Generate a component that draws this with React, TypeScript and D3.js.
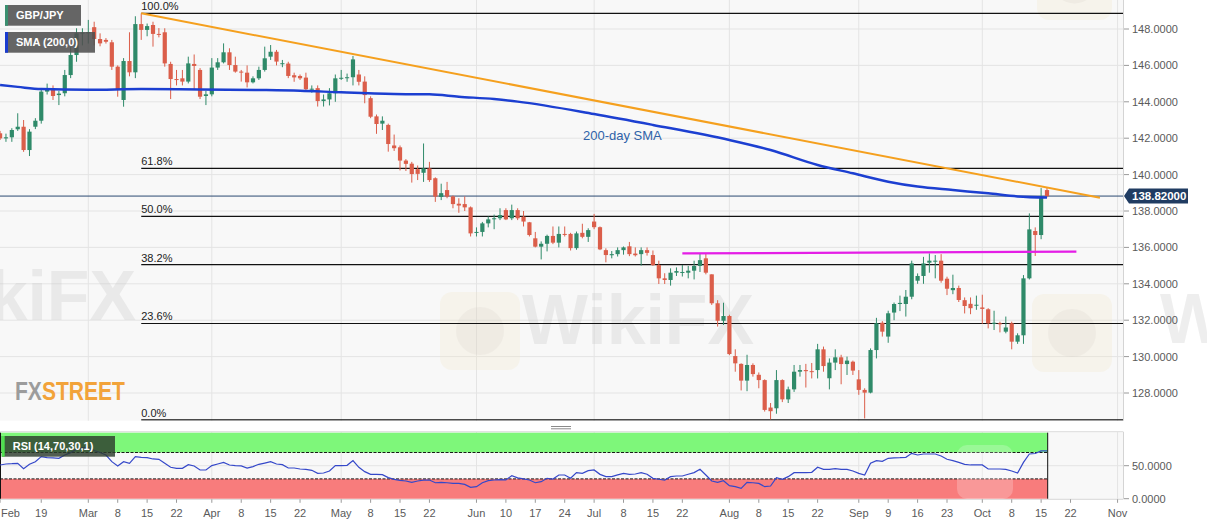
'use client';

import * as d3 from 'd3';
import { useEffect, useRef } from 'react';

const W = 1207;
const H = 526;

const firstDay = '2019-02-08';
const lastDay = '2019-11-01';

// GBP/JPY daily candles [open, high, low, close], Feb 8 – Oct 16 2019
const ohlc: [number, number, number, number][] = [
  [142.27, 142.4, 141.9, 141.99], [141.99, 142.25, 141.8, 142.05], [142.05, 142.55, 141.8, 142.45], [142.49, 143.37, 142.4, 142.63],
  [142.63, 143.0, 141.25, 141.35], [141.35, 142.5, 141.02, 142.36], [142.63, 143.1, 142.5, 142.96], [142.96, 144.7, 142.8, 144.56],
  [144.56, 145.0, 144.4, 144.68], [144.65, 144.9, 144.1, 144.32], [144.37, 144.6, 143.82, 144.45], [144.47, 145.75, 144.3, 145.47],
  [145.47, 147.0, 145.3, 146.57], [146.57, 148.04, 146.2, 147.76], [147.76, 148.04, 147.1, 147.8], [147.8, 148.5, 147.2, 147.82],
  [148.1, 148.4, 147.1, 147.45], [147.45, 147.76, 147.05, 147.21], [147.4, 147.5, 147.2, 147.3], [147.27, 147.4, 145.75, 145.93],
  [145.93, 146.0, 144.28, 144.65], [144.1, 146.4, 143.73, 146.24], [146.24, 147.82, 145.4, 145.62], [145.62, 148.7, 145.3, 148.27],
  [148.27, 148.86, 147.4, 147.95], [147.95, 148.3, 147.6, 148.16], [148.22, 148.4, 147.03, 147.73], [147.73, 148.05, 147.54, 147.7],
  [147.82, 148.04, 145.93, 146.11], [146.08, 146.2, 144.15, 145.25], [145.25, 145.75, 144.9, 145.2], [145.29, 145.75, 144.9, 145.11],
  [145.11, 146.48, 145.01, 146.11], [146.08, 146.6, 144.7, 145.97], [145.75, 145.85, 144.15, 144.28], [144.32, 144.6, 143.82, 144.41],
  [144.41, 146.4, 144.3, 145.88], [145.88, 146.4, 145.75, 146.17], [146.17, 147.21, 146.11, 146.72], [146.72, 146.94, 145.75, 146.02],
  [146.02, 146.48, 145.6, 145.66], [145.66, 145.75, 145.11, 145.64], [145.6, 146.0, 144.79, 145.07], [145.07, 145.4, 145.01, 145.29],
  [145.29, 145.93, 145.2, 145.75], [145.75, 147.03, 145.66, 146.39], [146.48, 147.12, 146.3, 146.75], [146.75, 146.85, 146.0, 146.21],
  [146.1, 146.3, 145.9, 146.12], [146.1, 146.2, 145.3, 145.42], [145.46, 145.6, 145.1, 145.34], [145.42, 145.5, 145.2, 145.29],
  [145.33, 145.6, 144.6, 144.69], [144.69, 144.9, 144.5, 144.72], [144.75, 144.9, 143.74, 144.04], [144.04, 144.4, 143.74, 144.13],
  [144.13, 144.75, 143.8, 144.47], [144.47, 145.5, 144.0, 145.29], [145.29, 145.75, 145.2, 145.32], [145.3, 145.55, 145.1, 145.35],
  [145.35, 146.52, 144.9, 146.33], [145.5, 145.75, 144.9, 145.1], [145.11, 145.4, 143.92, 144.37], [144.2, 144.3, 143.1, 143.18],
  [143.2, 143.3, 142.24, 142.78], [142.8, 143.2, 142.45, 142.96], [142.73, 142.8, 141.26, 141.68], [141.6, 142.2, 141.3, 141.45],
  [141.5, 141.6, 140.23, 140.77], [140.77, 140.85, 140.2, 140.59], [140.6, 140.7, 139.56, 140.03], [140.3, 140.5, 139.7, 140.04],
  [140.1, 141.71, 139.6, 140.34], [140.34, 140.7, 139.6, 139.7], [139.8, 139.85, 138.5, 138.79], [138.77, 139.5, 138.6, 138.98],
  [139.15, 139.6, 138.7, 138.79], [138.8, 138.85, 138.15, 138.38], [138.4, 138.7, 137.9, 138.3], [138.38, 138.8, 138.0, 138.2],
  [138.2, 138.25, 136.6, 136.77], [136.8, 137.1, 136.6, 136.85], [136.85, 137.4, 136.6, 137.32], [137.32, 137.7, 137.1, 137.54],
  [137.55, 137.8, 137.0, 137.6], [137.6, 138.15, 137.5, 137.78], [138.05, 138.15, 137.5, 137.54], [137.6, 138.35, 137.5, 138.05],
  [138.05, 138.15, 137.5, 137.6], [137.69, 138.0, 137.15, 137.42], [137.38, 137.4, 136.6, 136.68], [136.5, 136.85, 136.0, 136.04],
  [136.04, 136.33, 135.34, 136.2], [136.2, 136.7, 135.78, 136.63], [136.63, 137.15, 136.18, 136.26], [136.26, 137.15, 136.0, 136.74],
  [136.74, 137.15, 136.6, 136.72], [136.74, 136.8, 135.83, 135.96], [135.96, 136.87, 135.87, 136.77], [136.8, 137.3, 136.5, 136.58],
  [136.58, 137.05, 136.3, 136.95], [137.42, 137.84, 137.0, 137.11], [137.11, 137.15, 135.85, 135.89], [135.85, 135.95, 135.18, 135.58],
  [135.57, 135.8, 135.4, 135.63], [135.63, 136.0, 135.5, 135.85], [135.85, 136.05, 135.6, 136.0], [136.06, 136.3, 135.52, 135.63],
  [135.66, 136.0, 135.5, 135.57], [135.63, 136.0, 135.0, 135.85], [135.85, 136.0, 135.55, 135.7], [135.58, 135.83, 134.98, 135.03],
  [135.03, 135.27, 133.99, 134.3], [134.3, 134.58, 133.99, 134.21], [134.21, 134.85, 133.9, 134.61], [134.61, 134.9, 134.43, 134.7],
  [134.61, 135.03, 134.4, 134.65], [134.61, 134.98, 134.3, 134.72], [134.72, 135.27, 134.24, 134.98], [134.98, 135.67, 134.65, 135.3],
  [135.4, 135.65, 134.52, 134.61], [134.52, 134.52, 132.84, 132.93], [132.93, 133.1, 131.65, 131.97], [131.97, 132.96, 131.74, 132.23],
  [132.23, 132.3, 130.08, 130.14], [130.03, 130.4, 129.17, 129.63], [129.6, 129.63, 128.14, 128.68], [128.68, 130.1, 128.1, 129.54],
  [129.54, 129.63, 128.9, 129.04], [129.0, 129.13, 128.26, 128.71], [128.71, 128.75, 126.98, 127.07], [127.2, 127.45, 126.55, 127.0],
  [127.16, 129.26, 126.86, 128.71], [128.71, 128.75, 127.5, 127.65], [127.65, 128.35, 127.45, 128.2], [128.2, 129.54, 128.06, 129.17],
  [129.17, 129.54, 128.9, 129.26], [129.26, 129.6, 128.3, 129.2], [129.2, 129.65, 128.8, 129.18], [129.26, 130.7, 128.8, 130.4],
  [130.4, 130.55, 129.17, 129.48], [128.81, 129.9, 128.2, 129.67], [129.67, 130.4, 129.26, 129.96], [129.96, 130.1, 128.48, 129.59],
  [129.59, 130.0, 128.99, 129.78], [129.72, 129.78, 128.99, 129.23], [128.75, 129.26, 127.9, 128.17], [128.17, 128.26, 126.6, 128.02],
  [128.02, 130.45, 127.98, 130.36], [130.36, 132.13, 129.9, 131.83], [131.86, 131.95, 131.1, 131.37], [131.1, 132.52, 130.76, 132.38],
  [132.42, 132.97, 132.0, 132.89], [132.89, 133.35, 132.5, 132.95], [132.89, 133.66, 132.2, 133.29], [133.29, 135.27, 133.15, 135.12],
  [134.17, 134.57, 134.0, 134.43], [134.43, 135.48, 134.0, 135.12], [135.16, 135.67, 134.61, 135.27], [135.25, 135.58, 134.3, 135.27],
  [135.27, 135.63, 134.06, 134.17], [134.28, 134.39, 133.38, 133.73], [133.65, 134.5, 133.43, 133.77], [133.77, 133.9, 133.0, 133.11],
  [133.1, 133.25, 132.37, 132.78], [132.9, 133.25, 132.33, 132.66], [132.85, 133.35, 132.57, 132.85], [132.7, 133.4, 131.8, 132.62],
  [132.6, 132.66, 131.55, 131.83], [131.8, 132.52, 131.46, 131.86], [131.83, 131.92, 131.33, 131.82], [131.37, 132.2, 131.28, 131.6],
  [131.83, 131.92, 130.4, 130.82], [130.82, 131.28, 130.7, 131.17], [131.17, 134.48, 130.7, 134.3], [134.3, 137.87, 134.24, 136.99],
  [136.9, 137.1, 135.53, 136.68], [136.68, 139.26, 136.45, 138.79], [139.15, 139.3, 138.75, 138.82],
];

// RSI(14), one value per candle above
const rsi: number[] = [
  51.1, 52.6, 53.0, 53.6, 45.5, 52.1, 56.1, 63.7, 62.2, 61.8, 61.2, 66.2, 69.8, 75.0, 77.0, 77.0,
  73.0, 70.0, 66.2, 56.1, 49.6, 56.1, 53.6, 63.7, 62.7, 62.2, 60.2, 59.7, 53.6, 47.6, 46.0, 46.0,
  51.6, 49.6, 43.5, 43.5, 50.1, 52.6, 55.1, 51.1, 50.1, 49.6, 46.5, 48.6, 52.1, 54.0, 56.1, 52.6,
  51.6, 46.5, 46.5, 45.0, 44.5, 43.0, 38.4, 38.9, 42.0, 50.1, 50.1, 50.6, 57.7, 47.6, 41.0, 37.0,
  37.0, 36.5, 31.9, 29.4, 27.8, 26.8, 24.8, 26.8, 28.0, 28.3, 24.2, 24.8, 24.2, 23.2, 23.2, 21.7,
  17.2, 18.2, 24.2, 27.3, 28.3, 29.0, 28.5, 34.9, 31.5, 30.0, 28.3, 24.2, 25.8, 30.9, 29.8, 35.9,
  35.9, 30.9, 39.5, 38.4, 42.5, 43.5, 36.9, 33.4, 33.4, 36.0, 38.4, 36.9, 37.4, 39.5, 37.0, 30.9,
  29.5, 28.3, 33.4, 34.4, 34.4, 37.0, 39.5, 44.5, 35.9, 26.8, 24.8, 27.3, 19.7, 18.2, 15.7, 24.8,
  24.2, 23.2, 18.2, 19.2, 31.9, 29.4, 33.4, 39.5, 39.5, 39.5, 40.0, 47.6, 44.5, 44.5, 45.5, 44.5,
  44.5, 42.0, 38.4, 35.9, 53.6, 57.7, 56.6, 61.2, 62.0, 62.2, 62.7, 68.7, 66.2, 67.7, 67.7, 67.7,
  64.7, 59.7, 57.7, 55.1, 52.1, 51.1, 51.1, 51.1, 45.0, 45.0, 45.0, 44.5, 42.0, 39.0, 55.0, 67.7,
  68.5, 72.5, 72.5,
];

// 200-day SMA read at a few trading-day positions (index from Feb 8)
const smaDay = [0, 3, 7, 15, 24, 34, 44, 51, 58, 67, 73, 78, 84, 88, 101, 111, 124, 131, 139, 145, 151, 156, 162, 168, 173, 178];
const smaVal = [144.92, 144.82, 144.7, 144.66, 144.7, 144.68, 144.65, 144.61, 144.52, 144.43, 144.41, 144.28, 144.15, 144.01,
  143.33, 142.73, 141.9, 141.35, 140.53, 140.07, 139.61, 139.34, 139.15, 138.97, 138.8, 138.74];

const fibLabels = ['100.0%', '61.8%', '50.0%', '38.2%', '23.6%', '0.0%'];
const fibValues = [148.86, 140.34, 137.7, 135.05, 131.82, 126.52];
const fibStartDay = 24;

const trendDays = [24, 187];
const trendVals = [148.86, 138.73];
const resistDays = [116, 183];
const resistVals = [135.67, 135.77];

const lastPrice = 138.82;

const priceTicks = [128, 130, 132, 134, 136, 138, 140, 142, 144, 146, 148];
const rsiTicks = [0, 50];

const dateTicks: [string, string][] = [
  ['2019-02-08', 'Feb'], ['2019-02-19', '19'], ['2019-03-01', 'Mar'], ['2019-03-08', '8'], ['2019-03-15', '15'], ['2019-03-22', '22'],
  ['2019-04-01', 'Apr'], ['2019-04-08', '8'], ['2019-04-15', '15'], ['2019-04-22', '22'], ['2019-05-01', 'May'], ['2019-05-08', '8'],
  ['2019-05-15', '15'], ['2019-05-22', '22'], ['2019-06-03', 'Jun'], ['2019-06-10', '10'], ['2019-06-17', '17'], ['2019-06-24', '24'],
  ['2019-07-01', 'Jul'], ['2019-07-08', '8'], ['2019-07-15', '15'], ['2019-07-22', '22'], ['2019-08-01', 'Aug'], ['2019-08-08', '8'],
  ['2019-08-15', '15'], ['2019-08-22', '22'], ['2019-09-02', 'Sep'], ['2019-09-09', '9'], ['2019-09-16', '16'], ['2019-09-23', '23'],
  ['2019-10-01', 'Oct'], ['2019-10-08', '8'], ['2019-10-15', '15'], ['2019-10-22', '22'], ['2019-11-01', 'Nov'],
];
const monthLines = ['2019-03-01', '2019-04-01', '2019-05-01', '2019-06-03', '2019-07-01', '2019-08-01', '2019-09-02', '2019-10-01', '2019-11-01'];

const FONT = 'Liberation Sans, Arial, Helvetica, sans-serif';
const UP = '#2f8a69';
const DOWN = '#db5e4a';

export default function App() {
  const ref = useRef<SVGSVGElement | null>(null);

  useEffect(() => {
    const svg = d3.select(ref.current);
    svg.selectAll('*').remove();

    const plotR = 1123;
    const mainB = 420.7;
    const rsiTop = 431.7;
    const rsiBot = 499.3;

    const fmt = d3.timeFormat('%Y-%m-%d');
    const parse = d3.timeParse('%Y-%m-%d');
    const days = d3.timeDay
      .range(parse(firstDay)!, d3.timeDay.offset(parse(lastDay)!, 1))
      .filter((d) => d.getDay() !== 0 && d.getDay() !== 6);
    const dayIndex = new Map(days.map((d, i) => [fmt(d), i]));
    const di = (s: string) => dayIndex.get(s) ?? 0;

    const x = d3.scaleLinear().domain([di('2019-03-01'), di('2019-10-01')]).range([88.3, 982.3]);
    const y = d3.scaleLinear().domain([148, 128]).range([29, 393]);
    const yr = d3.scaleLinear().domain([0, 100]).range([498.7, 432.7]);

    svg.append('rect').attr('width', W).attr('height', H).attr('fill', '#ffffff');
    svg.append('defs').append('clipPath').attr('id', 'mainclip')
      .append('rect').attr('x', 0).attr('y', 0).attr('width', plotR).attr('height', mainB);

    // panel backgrounds
    svg.append('rect').attr('x', 0).attr('y', 0).attr('width', plotR).attr('height', mainB).attr('fill', '#f8f8f8');
    svg.append('rect').attr('x', 0).attr('y', rsiTop).attr('width', plotR).attr('height', rsiBot - rsiTop).attr('fill', '#f8f8f8');
    svg.append('line').attr('x1', 0).attr('x2', plotR).attr('y1', rsiTop).attr('y2', rsiTop).attr('stroke', '#dcdcdc');
    svg.append('line').attr('x1', 0).attr('x2', plotR).attr('y1', rsiBot).attr('y2', rsiBot).attr('stroke', '#d8d8d8');
    svg.append('line').attr('x1', plotR + 0.5).attr('x2', plotR + 0.5).attr('y1', 0).attr('y2', mainB).attr('stroke', '#d4d4d4');
    svg.append('line').attr('x1', plotR + 0.5).attr('x2', plotR + 0.5).attr('y1', rsiTop).attr('y2', rsiBot).attr('stroke', '#d4d4d4');

    // grid
    const grid = svg.append('g').attr('stroke', '#e4e4e4').attr('stroke-width', 1);
    priceTicks.forEach((p) => {
      grid.append('line').attr('x1', 0).attr('x2', plotR).attr('y1', y(p)).attr('y2', y(p));
    });
    grid.append('line').attr('x1', 0).attr('x2', plotR).attr('y1', yr(50)).attr('y2', yr(50));
    monthLines.forEach((m) => {
      const xm = x(di(m));
      grid.append('line').attr('x1', xm).attr('x2', xm).attr('y1', 0).attr('y2', mainB);
      grid.append('line').attr('x1', xm).attr('x2', xm).attr('y1', rsiTop).attr('y2', rsiBot);
    });

    // panel resize handle
    svg.append('line').attr('x1', 551).attr('x2', 571).attr('y1', 426.5).attr('y2', 426.5).attr('stroke', '#8a8a8a');
    svg.append('line').attr('x1', 551).attr('x2', 571).attr('y1', 428.8).attr('y2', 428.8).attr('stroke', '#8a8a8a');

    // watermarks (faint)
    const wm = svg.append('g').attr('pointer-events', 'none');
    [[440, 292, 80, 78], [1032, 294, 80, 78], [1037, -58, 75, 78]].forEach(([bx, by, bw, bh]) => {
      wm.append('rect').attr('x', bx).attr('y', by).attr('width', bw).attr('height', bh).attr('rx', 12)
        .attr('fill', '#f3e4c0').attr('opacity', 0.22);
      wm.append('circle').attr('cx', bx + bw / 2).attr('cy', by + bh / 2).attr('r', bw * 0.3)
        .attr('fill', '#c4bdb5').attr('opacity', 0.14);
    });
    [[-96, 320, 232], [522, 344, 232], [1160, 343, 232]].forEach(([tx, ty, tl]) => {
      wm.append('text').attr('x', tx).attr('y', ty).text('WikiFX')
        .attr('font-family', FONT).attr('font-weight', 700).attr('font-size', 70)
        .attr('textLength', tl).attr('lengthAdjust', 'spacingAndGlyphs')
        .attr('fill', '#c4c4c4').attr('opacity', 0.28);
    });

    const main = svg.append('g').attr('clip-path', 'url(#mainclip)');

    // fibonacci retracement
    fibValues.forEach((v, i) => {
      main.append('line').attr('x1', x(fibStartDay)).attr('x2', plotR).attr('y1', y(v)).attr('y2', y(v))
        .attr('stroke', '#111').attr('stroke-width', 1.2);
      svg.append('text').attr('x', x(fibStartDay)).attr('y', y(v) - 3).text(fibLabels[i])
        .attr('font-family', FONT).attr('font-size', 11).attr('fill', '#222');
    });

    // last price line
    main.append('line').attr('x1', 0).attr('x2', plotR).attr('y1', y(lastPrice)).attr('y2', y(lastPrice))
      .attr('stroke', '#2b4a72').attr('stroke-width', 1);

    // candles
    const cg = main.append('g');
    cg.selectAll('line.wick').data(ohlc).join('line').attr('class', 'wick')
      .attr('x1', (_, i) => x(i)).attr('x2', (_, i) => x(i))
      .attr('y1', (d) => y(d[1])).attr('y2', (d) => y(d[2]))
      .attr('stroke', (d) => (d[3] >= d[0] ? UP : DOWN)).attr('stroke-width', 1);
    cg.selectAll('rect.body').data(ohlc).join('rect').attr('class', 'body')
      .attr('x', (_, i) => x(i) - 2.1).attr('width', 4.2)
      .attr('y', (d) => y(Math.max(d[0], d[3])))
      .attr('height', (d) => Math.max(1, Math.abs(y(d[0]) - y(d[3]))))
      .attr('fill', (d) => (d[3] >= d[0] ? UP : DOWN));

    // SMA, trend line, resistance
    const sma = d3.line<number>().x((d) => x(d)).y((_, i) => y(smaVal[i])).curve(d3.curveMonotoneX);
    main.append('path').attr('d', sma(smaDay)).attr('fill', 'none').attr('stroke', '#1c3fd1').attr('stroke-width', 2.5);
    main.append('line').attr('x1', x(trendDays[0])).attr('x2', x(trendDays[1]))
      .attr('y1', y(trendVals[0])).attr('y2', y(trendVals[1]))
      .attr('stroke', '#f5a01e').attr('stroke-width', 2);
    main.append('line').attr('x1', x(resistDays[0])).attr('x2', x(resistDays[1]))
      .attr('y1', y(resistVals[0])).attr('y2', y(resistVals[1]))
      .attr('stroke', '#e41ee6').attr('stroke-width', 2.2);

    svg.append('text').attr('x', 583).attr('y', 139.5).text('200-day SMA')
      .attr('font-family', FONT).attr('font-size', 13).attr('fill', '#2f62a8');

    // legend boxes
    const box = (bx: number, by: number, bw: number, bh: number, strip: string, label: string, fill: string) => {
      svg.append('rect').attr('x', bx).attr('y', by).attr('width', bw).attr('height', bh).attr('fill', fill);
      svg.append('rect').attr('x', bx).attr('y', by).attr('width', 3).attr('height', bh).attr('fill', strip);
      svg.append('text').attr('x', bx + 11).attr('y', by + bh / 2 + 4).text(label)
        .attr('font-family', FONT).attr('font-weight', 700).attr('font-size', 11).attr('fill', '#ffffff');
    };
    box(5, 5, 76, 20.7, '#3a8f6f', 'GBP/JPY', 'rgba(80,80,80,0.88)');
    box(5, 32, 90, 20.7, '#1a3cd0', 'SMA (200,0)', 'rgba(80,80,80,0.88)');

    // right price axis
    const ax = svg.append('g').attr('font-family', FONT).attr('font-size', 11).attr('fill', '#5a5a5a');
    priceTicks.forEach((p) => {
      ax.append('line').attr('x1', plotR + 1).attr('x2', plotR + 6).attr('y1', y(p)).attr('y2', y(p)).attr('stroke', '#9a9a9a');
      ax.append('text').attr('x', 1132).attr('y', y(p) + 4).text(d3.format('.4f')(p));
    });
    rsiTicks.forEach((r) => {
      ax.append('line').attr('x1', plotR + 1).attr('x2', plotR + 6).attr('y1', yr(r)).attr('y2', yr(r)).attr('stroke', '#9a9a9a');
      ax.append('text').attr('x', 1132).attr('y', yr(r) + 4).text(d3.format('.4f')(r));
    });

    // last price tag
    const ly = y(lastPrice);
    svg.append('path')
      .attr('d', `M${plotR + 1},${ly} L${plotR + 6},${ly - 7.5} H1188 V${ly + 7.5} H${plotR + 6} Z`)
      .attr('fill', '#203c62');
    svg.append('text').attr('x', 1132).attr('y', ly + 4).text(d3.format('.5f')(lastPrice))
      .attr('font-family', FONT).attr('font-weight', 700).attr('font-size', 11.5).attr('fill', '#ffffff');

    // RSI panel
    const lastX = x(ohlc.length - 1) + 0.7;
    svg.append('rect').attr('x', 0).attr('y', yr(100)).attr('width', lastX).attr('height', yr(70) - yr(100)).attr('fill', '#7ef77a');
    svg.append('rect').attr('x', 0).attr('y', yr(30)).attr('width', lastX).attr('height', yr(0) - yr(30)).attr('fill', '#f87c7c');
    [70, 30].forEach((lv) => {
      svg.append('line').attr('x1', 0).attr('x2', lastX).attr('y1', yr(lv)).attr('y2', yr(lv))
        .attr('stroke', '#1a1a1a').attr('stroke-width', 1).attr('stroke-dasharray', '3 1.5');
    });
    svg.append('line').attr('x1', lastX).attr('x2', lastX).attr('y1', yr(100)).attr('y2', yr(0)).attr('stroke', '#111');
    svg.append('line').attr('x1', 0.5).attr('x2', 0.5).attr('y1', yr(100)).attr('y2', yr(0)).attr('stroke', '#111');
    svg.append('rect').attr('x', 957).attr('y', 445).attr('width', 56).attr('height', 54).attr('rx', 10)
      .attr('fill', '#ffffff').attr('opacity', 0.22);

    const rsiLine = d3.line<number>().x((_, i) => x(i)).y((d) => yr(d));
    svg.append('path').attr('d', rsiLine(rsi)).attr('fill', 'none').attr('stroke', '#3548c9').attr('stroke-width', 1.2);

    box(1.7, 436, 113.3, 20.7, '#4ee04e', 'RSI (14,70,30,1)', 'rgba(45,60,45,0.82)');

    // bottom date axis
    const bx = svg.append('g').attr('font-family', FONT).attr('font-size', 11).attr('fill', '#5a5a5a');
    dateTicks.forEach(([d, label]) => {
      const xt = x(di(d));
      bx.append('line').attr('x1', xt).attr('x2', xt).attr('y1', rsiBot).attr('y2', rsiBot + 3.5).attr('stroke', '#9a9a9a');
      bx.append('text').attr('x', xt < 12 ? 1 : xt).attr('y', 517)
        .attr('text-anchor', xt < 12 ? 'start' : 'middle').text(label);
    });

    // FXStreet logo
    const logo = svg.append('text').attr('x', 15).attr('y', 400)
      .attr('font-family', FONT).attr('font-weight', 700).attr('font-size', 26)
      .attr('textLength', 110).attr('lengthAdjust', 'spacingAndGlyphs');
    logo.append('tspan').text('FX').attr('fill', '#9c9c9c');
    logo.append('tspan').text('STREET').attr('fill', '#f2a33a');
  }, []);

  return (
    <svg
      ref={ref}
      width={W}
      height={H}
      style={{ position: 'fixed', left: 0, top: 0, display: 'block' }}
      role="img"
      aria-label="GBP/JPY daily chart"
    />
  );
}
